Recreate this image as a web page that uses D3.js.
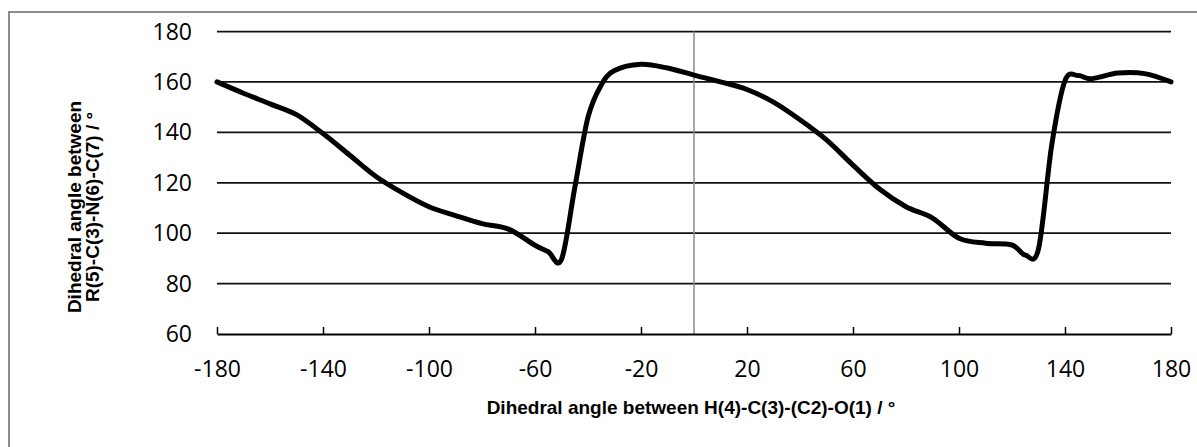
<!DOCTYPE html>
<html>
<head>
<meta charset="utf-8">
<script src="https://cdn.jsdelivr.net/npm/d3@7"></script>
<style>
	body { margin: 0; background: #fff; }
	svg text { font-family: "Open Sans", "Liberation Sans", sans-serif; fill: #000; }
	.axisTitle { font-family: "Liberation Sans", Arial, sans-serif !important; font-weight: bold; }
</style>
</head>
<body>
<svg id="chart" width="1197" height="447"></svg>
<script>
// H(4)-C(3)-(C2)-O(1) angle (denser around the two jumps)
let angleH = [-180, -170, -160, -150, -140, -130, -120, -110, -100, -90, -80, -70, -60, -55, -50, -45, -40, -35, -30, -20, -10, 0,
	10, 20, 30, 40, 50, 60, 70, 80, 90, 100, 110, 120, 125, 130, 135, 140, 145, 150, 160, 170, 180];
// R(5)-C(3)-N(6)-C(7) angle
let angleR = [160, 155.5, 151.3, 147, 139.5, 131, 122.5, 116, 110.5, 107, 103.8, 101.6, 95.2, 92.6, 89.6, 118, 146, 158.8, 164.5, 167, 165.5, 162.7,
	160, 157, 152, 145, 137, 127, 117.5, 110.5, 106, 98, 96, 95.3, 91.3, 93.8, 135, 160.5, 162.5, 161.3, 163.5, 163.3, 160];

let xTicks = [-180, -140, -100, -60, -20, 20, 60, 100, 140, 180];
let yTicks = [60, 80, 100, 120, 140, 160, 180];

let xTitle = "Dihedral angle between H(4)-C(3)-(C2)-O(1) / °";
let yTitle = ["Dihedral angle between", "R(5)-C(3)-N(6)-C(7) / °"];

function drawChart(holder){
	let margin = {"left": 217, "top": 31.5, "right": 26, "bottom": 113};
	let width = 1197;
	let height = 447;

	let svg = d3.select(holder);

	let data = angleH.map((h, i) => ({"h": h, "r": angleR[i]}));

	let scaleX = d3.scaleLinear()
		.domain([-180, 180])
		.range([margin.left, width - margin.right]);

	let scaleY = d3.scaleLinear()
		.domain([60, 180])
		.range([height - margin.bottom, margin.top]);

	// outer chart area border (only top/left visible)
	svg.append("rect")
		.attr("x", 9)
		.attr("y", 12)
		.attr("width", 1300)
		.attr("height", 600)
		.attr("fill", "none")
		.attr("stroke", "#8c8c8c")
		.attr("stroke-width", 2);

	// horizontal gridlines
	svg.append("g")
		.selectAll("line")
		.data(yTicks.filter(d => d > 60))
		.join("line")
		.attr("x1", scaleX(-180))
		.attr("x2", scaleX(180))
		.attr("y1", d => scaleY(d))
		.attr("y2", d => scaleY(d))
		.attr("stroke", "#111")
		.attr("stroke-width", 1.75);

	// y labels, no axis line
	svg.append("g")
		.selectAll("text")
		.data(yTicks)
		.join("text")
		.attr("x", scaleX(-180) - 25)
		.attr("y", d => scaleY(d) + 8)
		.attr("text-anchor", "end")
		.style("font-size", "23px")
		.text(d => d);

	// vertical axis at x = 0
	svg.append("line")
		.attr("x1", scaleX(0))
		.attr("x2", scaleX(0))
		.attr("y1", scaleY(180))
		.attr("y2", scaleY(60))
		.attr("stroke", "#8a8a8a")
		.attr("stroke-width", 1.5);

	// x axis at 60
	let axisX = svg.append("g")
		.attr("class", "axisX")
		.attr("transform", "translate(0," + scaleY(60) + ")")
		.call(d3.axisBottom(scaleX).tickValues(xTicks).tickSizeInner(-7).tickSizeOuter(0).tickPadding(0).tickFormat(d => String(d)));
	axisX.select(".domain").attr("stroke", "#000").attr("stroke-width", 2);
	axisX.selectAll(".tick line").attr("stroke", "#000").attr("stroke-width", 1.5);
	axisX.selectAll(".tick text")
		.attr("y", 43)
		.attr("dy", 0)
		.style("font-size", "23px")
		.attr("fill", "#000");
	axisX.attr("font-family", null).attr("font-size", null);

	// the curve
	let line = d3.line()
		.x(d => scaleX(d.h))
		.y(d => scaleY(d.r))
		.curve(d3.curveCardinal.tension(0));

	svg.append("path")
		.datum(data)
		.attr("d", line)
		.attr("fill", "none")
		.attr("stroke", "#000")
		.attr("stroke-width", 5)
		.attr("stroke-linejoin", "round")
		.attr("stroke-linecap", "round");

	// titles
	svg.append("text")
		.attr("class", "axisTitle")
		.attr("x", 691)
		.attr("y", 414)
		.attr("text-anchor", "middle")
		.style("font-size", "19px")
		.text(xTitle);

	let yTitleText = svg.append("text")
		.attr("class", "axisTitle")
		.attr("transform", "translate(81,207) rotate(-90)")
		.attr("text-anchor", "middle")
		.style("font-size", "19px");
	yTitleText.selectAll("tspan")
		.data(yTitle)
		.join("tspan")
		.attr("x", 0)
		.attr("y", (d, i) => i * 18)
		.text(d => d);
}

drawChart("#chart");
</script>
</body>
</html>
